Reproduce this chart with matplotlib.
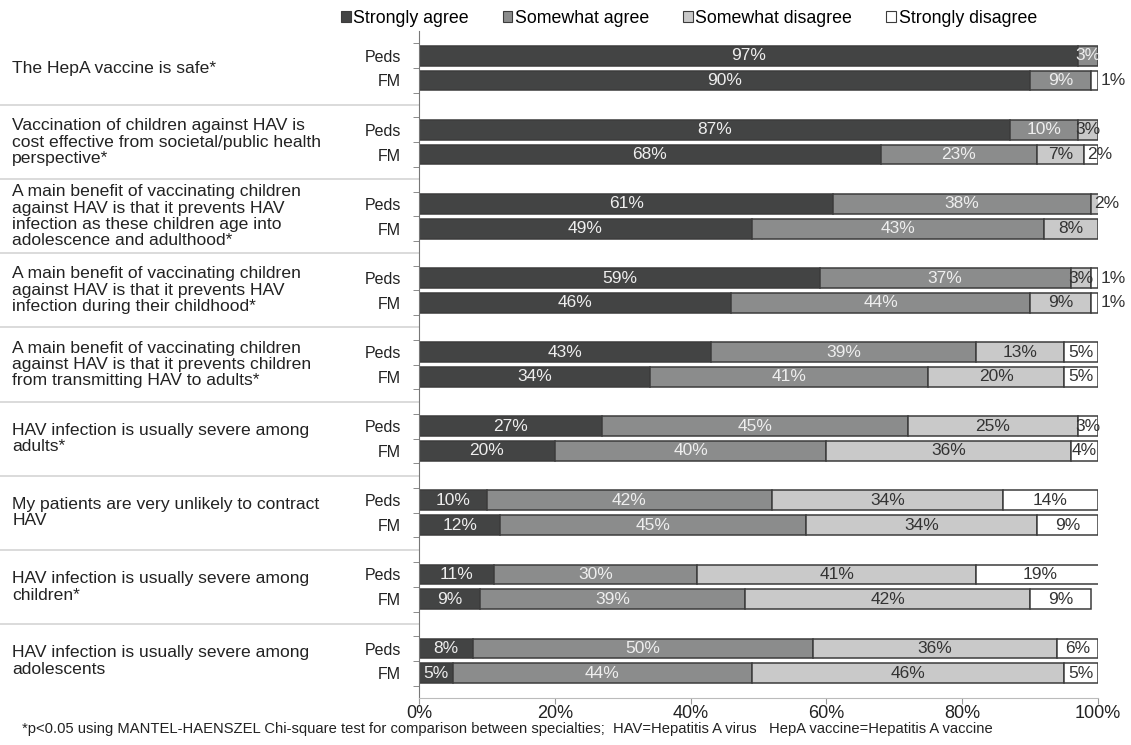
import numpy as np
import matplotlib; matplotlib.use("Agg")
import matplotlib.pyplot as plt
from matplotlib.patches import Patch
import matplotlib.transforms as mtransforms

plt.rcParams["font.family"] = ["Liberation Sans", "DejaVu Sans"]

QUESTIONS = [
    "The HepA vaccine is safe*",
    "Vaccination of children against HAV is\ncost effective from societal/public health\nperspective*",
    "A main benefit of vaccinating children\nagainst HAV is that it prevents HAV\ninfection as these children age into\nadolescence and adulthood*",
    "A main benefit of vaccinating children\nagainst HAV is that it prevents HAV\ninfection during their childhood*",
    "A main benefit of vaccinating children\nagainst HAV is that it prevents children\nfrom transmitting HAV to adults*",
    "HAV infection is usually severe among\nadults*",
    "My patients are very unlikely to contract\nHAV",
    "HAV infection is usually severe among\nchildren*",
    "HAV infection is usually severe among\nadolescents",
]
GROUPS = ["Peds", "FM"]
CATS = ["Strongly agree", "Somewhat agree", "Somewhat disagree", "Strongly disagree"]

peds_sa = [97, 87, 61, 59, 43, 27, 10, 11, 8]
peds_wa = [3, 10, 38, 37, 39, 45, 42, 30, 50]
peds_wd = [0, 3, 2, 3, 13, 25, 34, 41, 36]
peds_sd = [0, 0, 0, 1, 5, 3, 14, 19, 6]
fm_sa = [90, 68, 49, 46, 34, 20, 12, 9, 5]
fm_wa = [9, 23, 43, 44, 41, 40, 45, 39, 44]
fm_wd = [0, 7, 8, 9, 20, 36, 34, 42, 46]
fm_sd = [1, 2, 0, 1, 5, 4, 9, 9, 5]

FILL = ["#434444", "#8b8c8c", "#c9c9c9", "#ffffff"]
TXT = ["#eeeeee", "#eeeeee", "#333333", "#333333"]
EDGE = "#3c3c3c"

data = {"Peds": [peds_sa, peds_wa, peds_wd, peds_sd], "FM": [fm_sa, fm_wa, fm_wd, fm_sd]}

fig = plt.figure(figsize=(11.31, 7.45), dpi=100)
ax = fig.add_axes([419 / 1131, 1 - 698 / 745, 679 / 1131, 667 / 745])
n = len(QUESTIONS)
ax.set_ylim(3 * n, 0); ax.set_xlim(0, 100)
LBL = 12.5

ypos, ylab = [], []
for q in range(n):
    for j, g in enumerate(GROUPS):
        y = 3 * q + 1 + j
        ypos.append(y); ylab.append(g)
        left = 0
        for k in range(4):
            v = data[g][k][q]
            if v == 0:
                continue
            ax.barh(y, v, 0.8, left=left, color=FILL[k], edgecolor=EDGE, linewidth=1.1)
            end = left + v
            if v == 1:
                ax.text(end + 0.4, y, f"{v}%", ha="left", va="center", color="#333333", clip_on=False, fontsize=LBL)
            elif v == 2:
                ax.text(end + 0.3, y, f"{v}%", ha="center", va="center", color="#333333", clip_on=False, fontsize=LBL)
            else:
                ax.text(left + v / 2, y, f"{v}%", ha="center", va="center", color=TXT[k], clip_on=False, fontsize=LBL)
            left = end

ax.set_yticks(ypos); ax.set_yticklabels(ylab, fontsize=11.5, color="#222222")
ax.tick_params(axis="y", length=0, pad=13)
ax.set_yticks([3 * q + 0.5 + j for q in range(n) for j in range(3)], minor=True)
ax.tick_params(axis="y", which="minor", length=4, color="#777777")
ax.set_xticks([0, 20, 40, 60, 80, 100])
ax.set_xticklabels([f"{t}%" for t in [0, 20, 40, 60, 80, 100]], fontsize=13, color="#222222")
ax.tick_params(axis="x", length=4, color="#999999", pad=1)
for s in ["top", "right"]:
    ax.spines[s].set_visible(False)
ax.spines["left"].set_color("#777777")
ax.spines["bottom"].set_color("#bbbbbb")

trans = mtransforms.blended_transform_factory(ax.transAxes, ax.transData)
for q in range(n):
    ax.text(-0.599, 3 * q + 1.5, QUESTIONS[q], transform=trans, ha="left", va="center",
            fontsize=12.6, color="#222222", linespacing=1.12)
    if q > 0:
        ax.plot([-0.617, 0], [3 * q, 3 * q], transform=trans, color="#d4d4d4", lw=1.2, clip_on=False)

handles = [Patch(facecolor=FILL[k], edgecolor=EDGE, linewidth=0.8) for k in range(4)]
fig.legend(handles, CATS, loc="center", bbox_to_anchor=(0.609, 0.975), ncol=4, frameon=False,
           fontsize=12.8, handlelength=0.55, handleheight=0.55, handletextpad=0.15, columnspacing=1.9)

fig.text(22 / 1131, 1 - 729 / 745,
         "*p<0.05 using MANTEL-HAENSZEL Chi-square test for comparison between specialties;  HAV=Hepatitis A virus   HepA vaccine=Hepatitis A vaccine",
         ha="left", va="center", fontsize=10.6, color="#222222")

fig.savefig("out.png", dpi=100)
